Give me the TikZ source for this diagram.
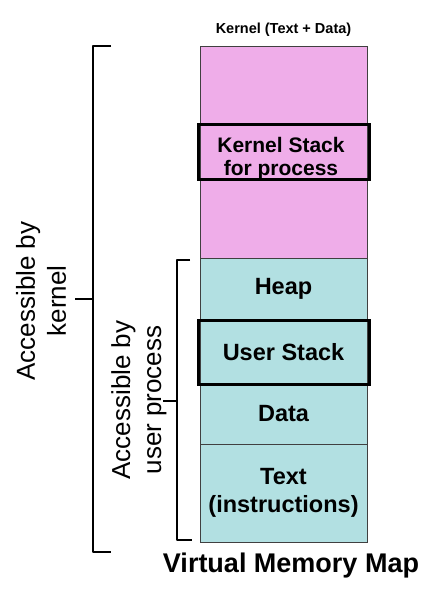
\documentclass[tikz,border=0pt]{standalone}
\usepackage{fontspec}
\setmainfont{Liberation Sans}
\usetikzlibrary{positioning}
\definecolor{kpink}{HTML}{EFADE9}
\definecolor{ucyan}{HTML}{B2E0E2}
\tikzset{
	region/.style={draw=black!75,line width=.8pt,minimum width=167pt,inner sep=0pt,align=center,
		font=\bfseries\fontsize{23.5}{28}\selectfont},
	hilite/.style={draw=black,line width=3pt,minimum width=171pt,inner sep=0pt},
	bracket/.style={line width=2.6pt,line join=round},
	side/.style={rotate=90,align=center,font=\fontsize{26}{31}\selectfont}
}
\begin{document}
\begin{tikzpicture}[x=1pt,y=-1pt]
	\useasboundingbox[fill=white](0,0)rectangle(436,593);
	% memory column
	\node[region,fill=kpink,minimum height=212pt](kernel)at(283.5,152){};
	\node[region,fill=ucyan,minimum height=62pt](heap)at(283.5,289){Heap};
	\node[region,fill=ucyan,minimum height=64pt](ustack)at(283.5,352){User Stack};
	\node[region,fill=ucyan,minimum height=60pt](data)at(283.5,414){Data};
	\node[region,fill=ucyan,minimum height=98pt](text)at(283.5,493){Text\\(instructions)};
	% highlighted stacks
	\node[hilite,minimum height=55pt](kstack)at(283.5,152.5){};
	\node[font=\bfseries\fontsize{21}{23}\selectfont,align=center]at(281,159){Kernel Stack\\for process};
	\node[hilite,minimum height=64pt]at(ustack){};
	\node[font=\bfseries\fontsize{14.5}{16}\selectfont,above=6pt of kernel](ktitle){Kernel (Text + Data)};
	\node[font=\bfseries\fontsize{27}{30}\selectfont](vmm)at(291,566){Virtual Memory Map};
	% brackets
	\draw[bracket](111,46)-|(93,552)--(111,552)
		(93,299)--(75,299);
	\draw[bracket](190,260)-|(177,540)--(192,540)
		(177,401)--(163,401);
	\node[side](kacc)at(41,301){Accessible by\\kernel};
	\node[side](uacc)at(139,400){Accessible by\\user process};
\end{tikzpicture}
\end{document}
